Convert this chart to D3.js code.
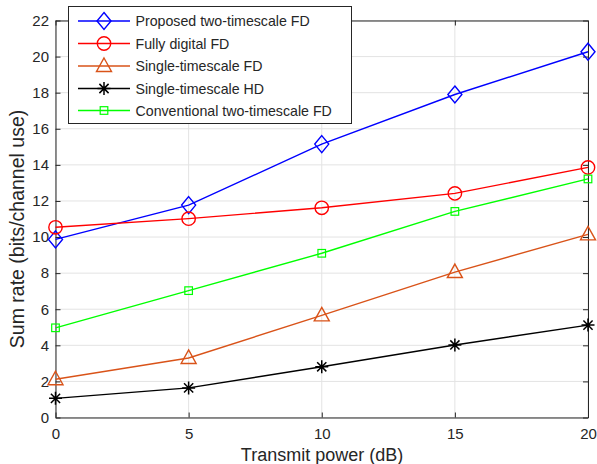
<!DOCTYPE html>
<html><head><meta charset="utf-8">
<script src="https://cdn.jsdelivr.net/npm/d3@7"></script>
<style>body{margin:0;background:#fff}svg{display:block}text{font-family:"Liberation Sans",Arial,sans-serif;fill:#262626}</style>
</head><body><svg id="c" width="597" height="464"></svg>
<script>
const xValues = [0, 5, 10, 15, 20];
const proposed = [9.87, 11.77, 15.15, 17.9, 20.27];
const fullyDigital = [10.54, 11.02, 11.62, 12.42, 13.86];
const singleFD = [2.12, 3.3, 5.66, 8.06, 10.15];
const singleHD = [1.06, 1.64, 2.81, 4.02, 5.12];
const conventional = [4.97, 7.03, 9.1, 11.42, 13.22];
const seriesNames = ["Proposed two-timescale FD","Fully digital FD","Single-timescale FD","Single-timescale HD","Conventional two-timescale FD"];
const xTicks = [0,5,10,15,20];
const yTicks = [0,2,4,6,8,10,12,14,16,18,20,22];

const series = [
  {name: seriesNames[0], values: proposed, color: "#0000ff", marker: "diamond"},
  {name: seriesNames[1], values: fullyDigital, color: "#ff0000", marker: "circle"},
  {name: seriesNames[2], values: singleFD, color: "#d95319", marker: "triangle"},
  {name: seriesNames[3], values: singleHD, color: "#000000", marker: "asterisk"},
  {name: seriesNames[4], values: conventional, color: "#00ff00", marker: "square"}
];

const svg = d3.select("#c");
const L = 55.5, R = 588, T = 20.5, B = 417.5;
const x = d3.scaleLinear().domain([0,20]).range([L,R]);
const y = d3.scaleLinear().domain([0,22]).range([B,T]);

// grid
const g = svg.append("g");
g.selectAll(".gx").data(xTicks).enter().append("line")
  .attr("x1", d=>x(d)).attr("x2", d=>x(d)).attr("y1", T).attr("y2", B)
  .attr("stroke", "#e3e3e3").attr("stroke-width", 1);
g.selectAll(".gy").data(yTicks).enter().append("line")
  .attr("x1", L).attr("x2", R).attr("y1", d=>y(d)).attr("y2", d=>y(d))
  .attr("stroke", "#e3e3e3").attr("stroke-width", 1);

// axes
const axCol = "#262626";
const axB = svg.append("g").attr("transform", `translate(0,${B})`)
  .call(d3.axisBottom(x).tickValues(xTicks).tickSize(-5).tickPadding(11).tickSizeOuter(0));
const axT = svg.append("g").attr("transform", `translate(0,${T})`)
  .call(d3.axisTop(x).tickValues(xTicks).tickSize(-5).tickFormat("").tickSizeOuter(0));
const axL = svg.append("g").attr("transform", `translate(${L},0)`)
  .call(d3.axisLeft(y).tickValues(yTicks).tickSize(-5).tickPadding(6.5).tickSizeOuter(0));
const axR = svg.append("g").attr("transform", `translate(${R},0)`)
  .call(d3.axisRight(y).tickValues(yTicks).tickSize(-5).tickFormat("").tickSizeOuter(0));
[axB, axT, axL, axR].forEach(a => {
  a.selectAll("path").attr("stroke", axCol).attr("stroke-width", 1);
  a.selectAll("line").attr("stroke", axCol).attr("stroke-width", 1);
  a.selectAll("text").attr("font-size", 15).attr("fill", axCol).style("font-family", '"Liberation Sans",Arial,sans-serif');
});

// labels
svg.append("text").attr("x", 322).attr("y", 461).attr("text-anchor","middle")
  .attr("font-size", 18).text("Transmit power (dB)");
svg.append("text").attr("transform", `translate(24,229) rotate(-90)`).attr("text-anchor","middle")
  .attr("font-size", 19.5).text("Sum rate (bits/channel use)");

function drawMarker(sel, type, color) {
  if (type === "diamond") {
    sel.append("path").attr("d", "M0,-8.5L7,0L0,8.5L-7,0Z").attr("fill","none").attr("stroke",color).attr("stroke-width",1.4);
  } else if (type === "circle") {
    sel.append("circle").attr("r", 6.7).attr("fill","none").attr("stroke",color).attr("stroke-width",1.4);
  } else if (type === "triangle") {
    sel.append("path").attr("d", "M0,-8L7.5,5.5L-7.5,5.5Z").attr("fill","none").attr("stroke",color).attr("stroke-width",1.4);
  } else if (type === "asterisk") {
    const r = 6.5, d = r*0.707;
    sel.append("path").attr("d", `M${-r},0L${r},0M0,${-r}L0,${r}M${-d},${-d}L${d},${d}M${-d},${d}L${d},${-d}`)
      .attr("stroke",color).attr("stroke-width",1.5).attr("fill","none");
  } else if (type === "square") {
    sel.append("rect").attr("x",-3.8).attr("y",-3.8).attr("width",7.6).attr("height",7.6).attr("fill","none").attr("stroke",color).attr("stroke-width",1.2);
  }
}

const line = d3.line().x((d,i)=>x(xValues[i])).y(d=>y(d));
series.forEach(s => {
  svg.append("path").attr("d", line(s.values)).attr("fill","none").attr("stroke", s.color).attr("stroke-width", 1.4);
  s.values.forEach((v,i) => {
    const m = svg.append("g").attr("transform", `translate(${x(xValues[i])},${y(v)})`);
    drawMarker(m, s.marker, s.color);
  });
});

// legend
const lg = svg.append("g");
lg.append("rect").attr("x", 68.5).attr("y", 6.5).attr("width", 283).attr("height", 117)
  .attr("fill","#fff").attr("stroke", axCol).attr("stroke-width", 1);
const legY = [21, 43.5, 66, 88.5, 110.5];
series.forEach((s,i) => {
  const yy = legY[i];
  lg.append("line").attr("x1", 78).attr("x2", 130).attr("y1", yy).attr("y2", yy).attr("stroke", s.color).attr("stroke-width", 1.4);
  const m = lg.append("g").attr("transform", `translate(104,${yy})`);
  drawMarker(m, s.marker, s.color);
  lg.append("text").attr("x", 135.5).attr("y", yy+5).attr("font-size", 14.2).text(s.name);
});
</script></body></html>
